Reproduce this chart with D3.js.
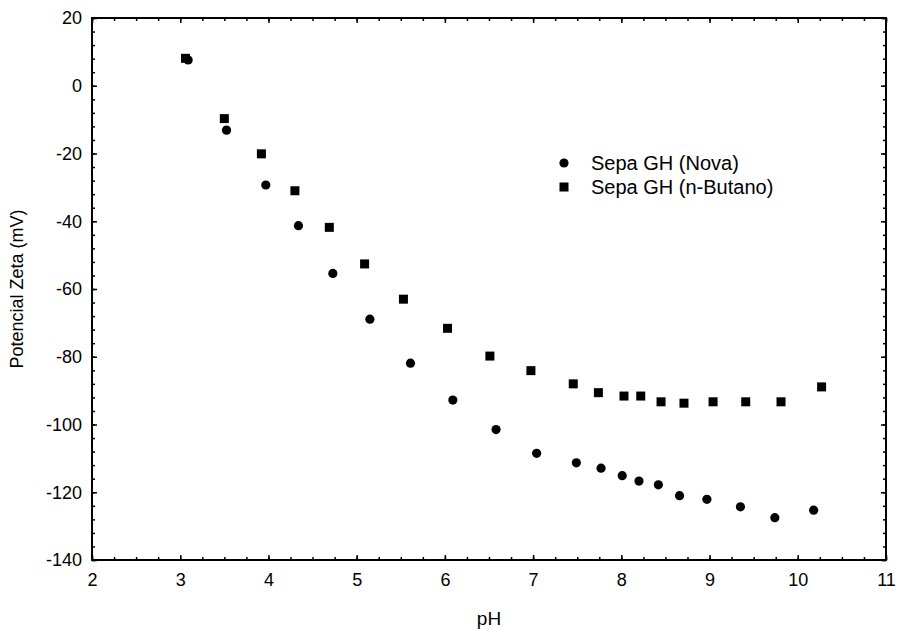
<!DOCTYPE html>
<html>
<head>
<meta charset="utf-8">
<script src="https://cdn.jsdelivr.net/npm/d3@7"></script>
<style>
  body { margin: 0; background: #fff; }
  text { font-family: "Liberation Sans", Arial, sans-serif; fill: #000; }
</style>
</head>
<body>
<svg width="898" height="630"></svg>
<script>
// pH values and zeta potential (mV)
var phNova = [3.09, 3.525, 3.97, 4.34, 4.73, 5.15, 5.61, 6.09, 6.58, 7.04, 7.49, 7.77, 8.01, 8.20, 8.42, 8.66, 8.97, 9.35, 9.74, 10.18];
var zetaNova = [7.6, -13.1, -29.3, -41.3, -55.4, -68.9, -81.9, -92.8, -101.5, -108.5, -111.3, -112.9, -115.1, -116.7, -117.8, -121.0, -122.1, -124.3, -127.5, -125.3];
var phButano = [3.06, 3.50, 3.92, 4.30, 4.69, 5.09, 5.53, 6.03, 6.51, 6.975, 7.455, 7.74, 8.03, 8.22, 8.45, 8.71, 9.04, 9.41, 9.81, 10.27];
var zetaButano = [8.1, -9.7, -20.1, -31.0, -41.8, -52.6, -63.0, -71.6, -79.8, -84.1, -88.0, -90.6, -91.6, -91.6, -93.3, -93.7, -93.3, -93.3, -93.3, -88.9];

var seriesNames = ["Sepa GH (Nova)", "Sepa GH (n-Butano)"];
var xTicks = [2, 3, 4, 5, 6, 7, 8, 9, 10, 11];
var yTicks = [20, 0, -20, -40, -60, -80, -100, -120, -140];

var svg = d3.select("svg");
var pLeft = 92, pRight = 886, pTop = 18, pBottom = 560;

var x = d3.scaleLinear().domain([2, 11]).range([pLeft, pRight]);
var y = d3.scaleLinear().domain([-140, 20]).range([pBottom, pTop]);

var xMinor = d3.range(2, 11.001, 0.25);
var yMinor = d3.range(-140, 20.001, 4);
var plain = function (d) { return String(d); };

// minor ticks (inward, on all four sides)
svg.append("g").attr("transform", "translate(0," + pBottom + ")")
  .call(d3.axisBottom(x).tickValues(xMinor).tickSize(-3).tickFormat(""));
svg.append("g").attr("transform", "translate(0," + pTop + ")")
  .call(d3.axisTop(x).tickValues(xMinor).tickSize(-3).tickFormat(""));
svg.append("g").attr("transform", "translate(" + pLeft + ",0)")
  .call(d3.axisLeft(y).tickValues(yMinor).tickSize(-3).tickFormat(""));
svg.append("g").attr("transform", "translate(" + pRight + ",0)")
  .call(d3.axisRight(y).tickValues(yMinor).tickSize(-3).tickFormat(""));

// major ticks
svg.append("g").attr("transform", "translate(0," + pBottom + ")")
  .call(d3.axisBottom(x).tickValues(xTicks).tickFormat(plain).tickSizeInner(-5).tickSizeOuter(0).tickPadding(13));
svg.append("g").attr("transform", "translate(0," + pTop + ")")
  .call(d3.axisTop(x).tickValues(xTicks).tickSize(-5).tickFormat(""));
svg.append("g").attr("transform", "translate(" + pLeft + ",0)")
  .call(d3.axisLeft(y).tickValues(yTicks).tickFormat(plain).tickSizeInner(-5).tickSizeOuter(0).tickPadding(10));
svg.append("g").attr("transform", "translate(" + pRight + ",0)")
  .call(d3.axisRight(y).tickValues(yTicks).tickSize(-5).tickFormat(""));

svg.selectAll(".tick line").attr("stroke", "#000").attr("stroke-width", 1.5);
svg.selectAll(".domain").remove();
svg.selectAll(".tick text").attr("font-size", 18).attr("fill", "#000")
  .attr("font-family", "Liberation Sans, Arial, sans-serif");

// frame
svg.append("rect")
  .attr("x", pLeft).attr("y", pTop)
  .attr("width", pRight - pLeft).attr("height", pBottom - pTop)
  .attr("fill", "none").attr("stroke", "#000").attr("stroke-width", 2);

// points
var nova = d3.zip(phNova, zetaNova);
var butano = d3.zip(phButano, zetaButano);
var sq = 9;

svg.append("g").selectAll("rect").data(butano).enter().append("rect")
  .attr("x", function (d) { return x(d[0]) - sq / 2; })
  .attr("y", function (d) { return y(d[1]) - sq / 2; })
  .attr("width", sq).attr("height", sq)
  .attr("fill", "#000");

svg.append("g").selectAll("circle").data(nova).enter().append("circle")
  .attr("cx", function (d) { return x(d[0]); })
  .attr("cy", function (d) { return y(d[1]); })
  .attr("r", 4.6)
  .attr("fill", "#000");

// legend
var lg = svg.append("g").attr("transform", "translate(564,163)");
lg.append("circle").attr("cx", 0).attr("cy", 0).attr("r", 4.6).attr("fill", "#000");
lg.append("rect").attr("x", -4.5).attr("y", 24 - 4.5).attr("width", 9).attr("height", 9).attr("fill", "#000");
lg.selectAll("text").data(seriesNames).enter().append("text")
  .attr("x", 27)
  .attr("y", function (d, i) { return i * 24 + 7; })
  .attr("font-size", 20)
  .text(function (d) { return d; });

// axis titles
svg.append("text")
  .attr("x", (pLeft + pRight) / 2).attr("y", 625)
  .attr("text-anchor", "middle").attr("font-size", 19)
  .text("pH");
svg.append("text")
  .attr("transform", "translate(23," + (pTop + pBottom) / 2 + ") rotate(-90)")
  .attr("text-anchor", "middle").attr("font-size", 18)
  .text("Potencial Zeta (mV)");
</script>
</body>
</html>
